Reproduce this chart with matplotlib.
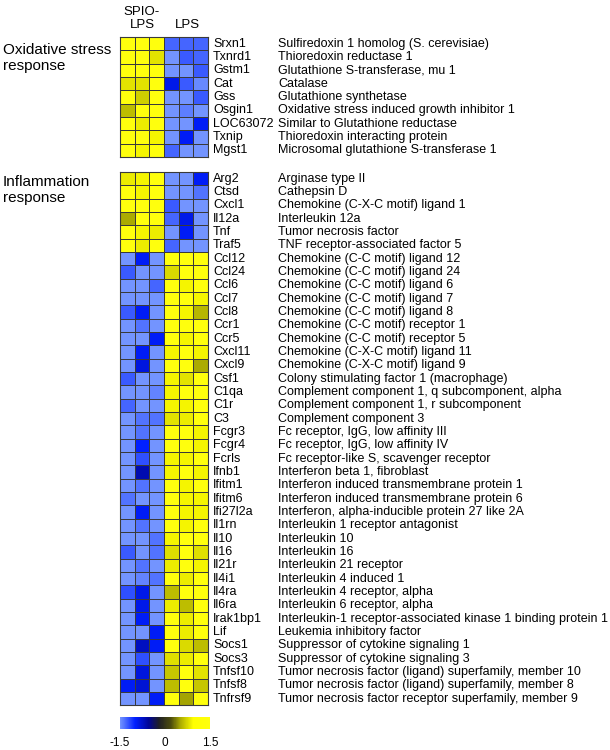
import numpy as np
import matplotlib
matplotlib.use("Agg")
import matplotlib.pyplot as plt
from matplotlib.colors import LinearSegmentedColormap, Normalize
from matplotlib.cm import ScalarMappable

plt.rcParams['font.family'] = ['Liberation Sans', 'DejaVu Sans']

# columns: 3 x SPIO-LPS, 3 x LPS
ox_genes = ['Srxn1', 'Txnrd1', 'Gstm1', 'Cat', 'Gss', 'Osgin1', 'LOC63072', 'Txnip', 'Mgst1']
ox_desc = ['Sulfiredoxin 1 homolog (S. cerevisiae)', 'Thioredoxin reductase 1',
           'Glutathione S-transferase, mu 1', 'Catalase', 'Glutathione synthetase',
           'Oxidative stress induced growth inhibitor 1', 'Similar to Glutathione reductase',
           'Thioredoxin interacting protein', 'Microsomal glutathione S-transferase 1']
ox_vals = [
    [1.5, 1.5, 1.5, -1.3, -1.3, -1.3],
    [1.5, 1.5, 0.8, -1.5, -1.25, -1.3],
    [1.5, 1.5, 1.5, -1.5, -1.5, -1.25],
    [0.8, 0.8, 1.5, -0.9, -1.25, -1.45],
    [1.5, 0.7, 1.5, -1.5, -1.5, -1.25],
    [0.6, 1.5, 1.5, -1.5, -1.4, -1.5],
    [1.5, 0.85, 1.5, -1.5, -1.5, -0.95],
    [1.5, 1.5, 0.9, -1.5, -0.95, -1.5],
    [1.5, 0.9, 1.5, -1.3, -1.5, -1.5],
]

inf_genes = ['Arg2', 'Ctsd', 'Cxcl1', 'Il12a', 'Tnf', 'Traf5', 'Ccl12', 'Ccl24', 'Ccl6', 'Ccl7',
             'Ccl8', 'Ccr1', 'Ccr5', 'Cxcl11', 'Cxcl9', 'Csf1', 'C1qa', 'C1r', 'C3', 'Fcgr3',
             'Fcgr4', 'Fcrls', 'Ifnb1', 'Ifitm1', 'Ifitm6', 'Ifi27l2a', 'Il1rn', 'Il10', 'Il16',
             'Il21r', 'Il4i1', 'Il4ra', 'Il6ra', 'Irak1bp1', 'Lif', 'Socs1', 'Socs3', 'Tnfsf10',
             'Tnfsf8', 'Tnfrsf9']
inf_desc = ['Arginase type II', 'Cathepsin D', 'Chemokine (C-X-C motif) ligand 1',
            'Interleukin 12a', 'Tumor necrosis factor', 'TNF receptor-associated factor 5',
            'Chemokine (C-C motif) ligand 12', 'Chemokine (C-C motif) ligand 24',
            'Chemokine (C-C motif) ligand 6', 'Chemokine (C-C motif) ligand 7',
            'Chemokine (C-C motif) ligand 8', 'Chemokine (C-C motif) receptor 1',
            'Chemokine (C-C motif) receptor 5', 'Chemokine (C-X-C motif) ligand 11',
            'Chemokine (C-X-C motif) ligand 9', 'Colony stimulating factor 1 (macrophage)',
            'Complement component 1, q subcomponent, alpha',
            'Complement component 1, r subcomponent', 'Complement component 3',
            'Fc receptor, IgG, low affinity III', 'Fc receptor, IgG, low affinity IV',
            'Fc receptor-like S, scavenger receptor', 'Interferon beta 1, fibroblast',
            'Interferon induced transmembrane protein 1',
            'Interferon induced transmembrane protein 6',
            'Interferon, alpha-inducible protein 27 like 2A', 'Interleukin 1 receptor antagonist',
            'Interleukin 10', 'Interleukin 16', 'Interleukin 21 receptor', 'Interleukin 4 induced 1',
            'Interleukin 4 receptor, alpha', 'Interleukin 6 receptor, alpha',
            'Interleukin-1 receptor-associated kinase 1 binding protein 1',
            'Leukemia inhibitory factor', 'Suppressor of cytokine signaling 1',
            'Suppressor of cytokine signaling 3',
            'Tumor necrosis factor (ligand) superfamily, member 10',
            'Tumor necrosis factor (ligand) superfamily, member 8',
            'Tumor necrosis factor receptor superfamily, member 9']
inf_vals = [
    [0.85, 0.9, 1.5, -1.5, -1.5, -0.95],
    [1.5, 0.9, 1.5, -1.5, -1.5, -1.35],
    [1.5, 1.5, 1.5, -1.25, -1.5, -1.5],
    [0.52, 1.5, 1.5, -1.3, -0.9, -1.5],
    [1.5, 0.9, 0.85, -1.5, -0.95, -1.5],
    [1.5, 0.85, 1.5, -1.3, -1.5, -1.5],
    [-1.5, -0.95, -1.5, 1.5, 1.5, 1.5],
    [-1.25, -1.5, -1.5, 0.75, 1.5, 1.5],
    [-1.5, -1.5, -1.3, 1.5, 0.9, 1.5],
    [-1.5, -1.5, -1.5, 1.5, 1.5, 0.9],
    [-1.25, -0.95, -1.5, 1.5, 0.9, 0.57],
    [-1.5, -1.35, -1.5, 1.5, 1.5, 1.5],
    [-1.5, -1.5, -0.95, 1.5, 0.9, 1.5],
    [-1.5, -0.95, -1.5, 0.9, 1.5, 0.9],
    [-1.5, -0.85, -1.5, 1.5, 1.5, 0.52],
    [-1.25, -1.5, -1.5, 0.9, 0.8, 1.5],
    [-1.5, -1.5, -1.42, 0.9, 1.5, 1.5],
    [-1.3, -1.5, -1.5, 0.9, 0.9, 1.5],
    [-1.5, -1.35, -1.35, 0.8, 0.85, 1.5],
    [-1.5, -1.35, -1.5, 1.5, 1.5, 0.9],
    [-1.5, -1.0, -1.5, 1.5, 1.5, 0.9],
    [-1.5, -1.2, -1.5, 0.9, 0.9, 1.5],
    [-1.5, -0.65, -1.5, 0.9, 1.5, 0.9],
    [-1.5, -1.35, -1.5, 1.5, 0.9, 1.5],
    [-1.35, -1.5, -1.5, 1.5, 0.9, 0.9],
    [-1.5, -0.95, -1.5, 1.5, 0.9, 0.9],
    [-1.5, -1.35, -1.5, 1.5, 0.9, 1.5],
    [-1.5, -1.5, -1.35, 0.9, 1.5, 1.5],
    [-1.25, -1.5, -1.35, 0.78, 1.5, 0.78],
    [-1.5, -1.35, -1.5, 0.85, 1.5, 0.9],
    [-1.5, -1.42, -1.35, 1.5, 0.85, 1.5],
    [-1.2, -0.9, -1.5, 0.6, 1.5, 1.5],
    [-1.5, -0.9, -1.5, 0.85, 0.6, 1.5],
    [-1.5, -0.95, -1.5, 1.5, 0.85, 1.5],
    [-1.5, -1.5, -0.95, 1.5, 0.85, 1.5],
    [-1.5, -0.72, -0.95, 1.5, 0.75, 0.6],
    [-1.5, -1.2, -1.5, 0.78, 0.85, 1.5],
    [-1.5, -0.85, -1.5, 0.65, 1.5, 0.8],
    [-0.95, -0.8, -1.5, 0.6, 1.5, 0.65],
    [-1.5, -1.5, -0.95, 1.5, 0.5, 1.5],
]

# blue - black - yellow scale
vmin, vmax = -1.5, 1.5
stops = [(-1.5, (0.45, 0.58, 1.0)), (-1.0, (0.0, 0.12, 1.0)), (-0.55, (0.0, 0.02, 0.6)),
         (-0.2, (0.12, 0.12, 0.15)), (0.2, (0.3, 0.3, 0.05)), (0.55, (0.7, 0.7, 0.0)),
         (0.95, (1.0, 1.0, 0.0)), (1.5, (1.0, 1.0, 0.05))]
cmap = LinearSegmentedColormap.from_list('bky', [((v - vmin) / (vmax - vmin), c) for v, c in stops])
norm = Normalize(vmin, vmax)

W, H = 610, 750
fig = plt.figure(figsize=(6.1, 7.5), dpi=100)
x0, cw, rh = 120, 88, 13.33


def block(top, vals, genes, desc):
    n = len(vals)
    ax = fig.add_axes([x0 / W, 1 - (top + n * rh) / H, cw / W, n * rh / H])
    ax.pcolormesh(np.array(vals), cmap=cmap, norm=norm, edgecolors='#3a3a3a', linewidth=0.6)
    ax.set_xlim(0, 6)
    ax.set_ylim(n, 0)
    ax.set_xticks([])
    ax.set_yticks([])
    for s in ax.spines.values():
        s.set_color('#3a3a3a')
        s.set_linewidth(0.8)
    tr = ax.get_yaxis_transform()
    for i, (g, d) in enumerate(zip(genes, desc)):
        ax.text((213 - x0) / cw, i + 0.5, g, transform=tr, va='center', ha='left', fontsize=9)
        ax.text((278 - x0) / cw, i + 0.5, d, transform=tr, va='center', ha='left', fontsize=9)
    return ax


block(37, ox_vals, ox_genes, ox_desc)
block(172, inf_vals, inf_genes, inf_desc)

fig.text(3 / W, 1 - 58 / H, 'Oxidative stress\nresponse', fontsize=11, va='center', ha='left',
         linespacing=1.15)
fig.text(3 / W, 1 - 190 / H, 'Inflammation\nresponse', fontsize=11, va='center', ha='left',
         linespacing=1.15)
fig.text(142 / W, 1 - 12 / H, 'SPIO-', fontsize=9.5, ha='center', va='center')
fig.text(142 / W, 1 - 25 / H, 'LPS', fontsize=9.5, ha='center', va='center')
fig.text(187 / W, 1 - 25 / H, 'LPS', fontsize=9.5, ha='center', va='center')

cax = fig.add_axes([120 / W, 1 - 729 / H, 90 / W, 12 / H])
cb = fig.colorbar(ScalarMappable(norm=norm, cmap=cmap), cax=cax, orientation='horizontal')
cb.outline.set_visible(False)
cb.set_ticks([-1.5, 0, 1.5])
cb.set_ticklabels(['-1.5', '0', '1.5'])
cax.tick_params(length=0, labelsize=8.5, pad=6)

fig.savefig('out.png', dpi=100)
